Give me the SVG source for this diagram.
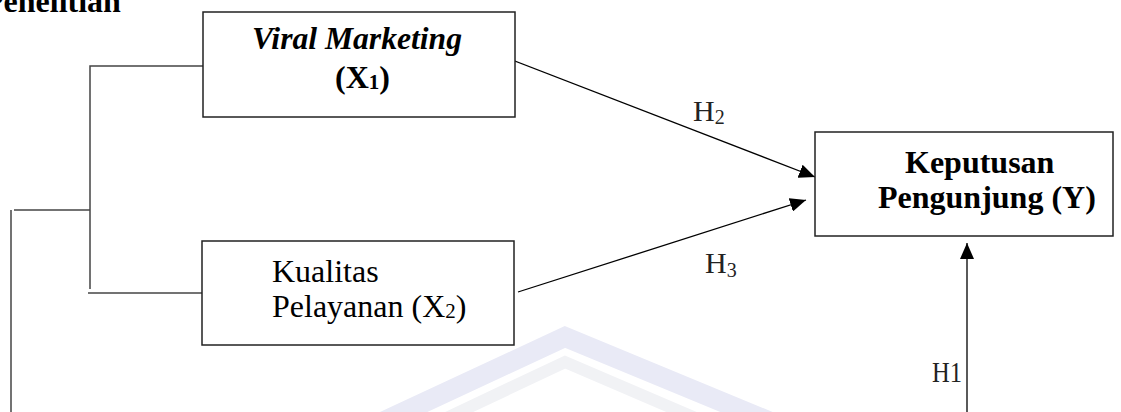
<svg xmlns="http://www.w3.org/2000/svg" width="1121" height="412" viewBox="0 0 1121 412">
<style>
.box{fill:#fff;stroke:#222;stroke-width:1.5}
.br{fill:none;stroke:#444;stroke-width:1.5}
.ar{fill:none;stroke:#000;stroke-width:1.3}
.t{font-family:"Liberation Serif","Times New Roman",serif;fill:#000;font-size:32px}
.b{font-weight:bold}
.h{font-family:"Liberation Serif","Times New Roman",serif;fill:#222;font-size:30px}
.wm{fill:none;stroke-linejoin:miter}
</style>
<defs>
<marker id="ah" viewBox="0 0 16 14" refX="16" refY="7" markerWidth="16" markerHeight="14" markerUnits="userSpaceOnUse" orient="auto">
<path d="M0,0 L16,7 L0,14 Z" fill="#000"/>
</marker>
</defs>
<rect width="1121" height="412" fill="#fff"/>
<g id="watermark">
<polyline class="wm" points="380,423 565,337 790,430" stroke="#e9eaf6" stroke-width="20"/>
<polyline class="wm" points="400,440 565,362 770,450" stroke="#f1f2f5" stroke-width="12"/>
</g>
<text class="t b" x="-16" y="12" font-size="30">Penelitian</text>
<g id="connectors">
<polyline class="br" points="203,66 90,66 90,289"/>
<line class="br" x1="88" y1="293" x2="203" y2="293"/>
<line class="br" x1="14" y1="210" x2="90" y2="210"/>
<line class="br" x1="11" y1="210" x2="11" y2="412"/>
<line class="ar" x1="507" y1="58" x2="815" y2="177" marker-end="url(#ah)"/>
<line class="ar" x1="518" y1="292" x2="806" y2="200" marker-end="url(#ah)"/>
<line class="ar" x1="967" y1="412" x2="967" y2="243" marker-end="url(#ah)"/>
<text class="h" x="693" y="121">H<tspan font-size="20" dy="3">2</tspan></text>
<text class="h" x="705" y="273">H<tspan font-size="20" dy="4">3</tspan></text>
<text class="h" x="932" y="382" textLength="30" lengthAdjust="spacingAndGlyphs">H1</text>
</g>
<g id="x1">
<rect class="box" x="203" y="12" width="312" height="105"/>
<text class="t b" x="252" y="49" font-style="italic" textLength="210" lengthAdjust="spacingAndGlyphs">Viral Marketing</text>
<text class="t b" x="335" y="88">(X<tspan font-size="21" dy="1">1</tspan><tspan dy="-1">)</tspan></text>
</g>
<g id="x2">
<rect class="box" x="202" y="241" width="312" height="104"/>
<text class="t" x="272" y="282">Kualitas</text>
<text class="t" x="272" y="317">Pelayanan (X<tspan font-size="21" dy="1">2</tspan><tspan dy="-1">)</tspan></text>
</g>
<g id="y">
<rect class="box" x="815" y="132" width="298" height="104"/>
<text class="t b" x="905" y="173">Keputusan</text>
<text class="t b" x="878" y="208">Pengunjung (Y)</text>
</g>
</svg>
